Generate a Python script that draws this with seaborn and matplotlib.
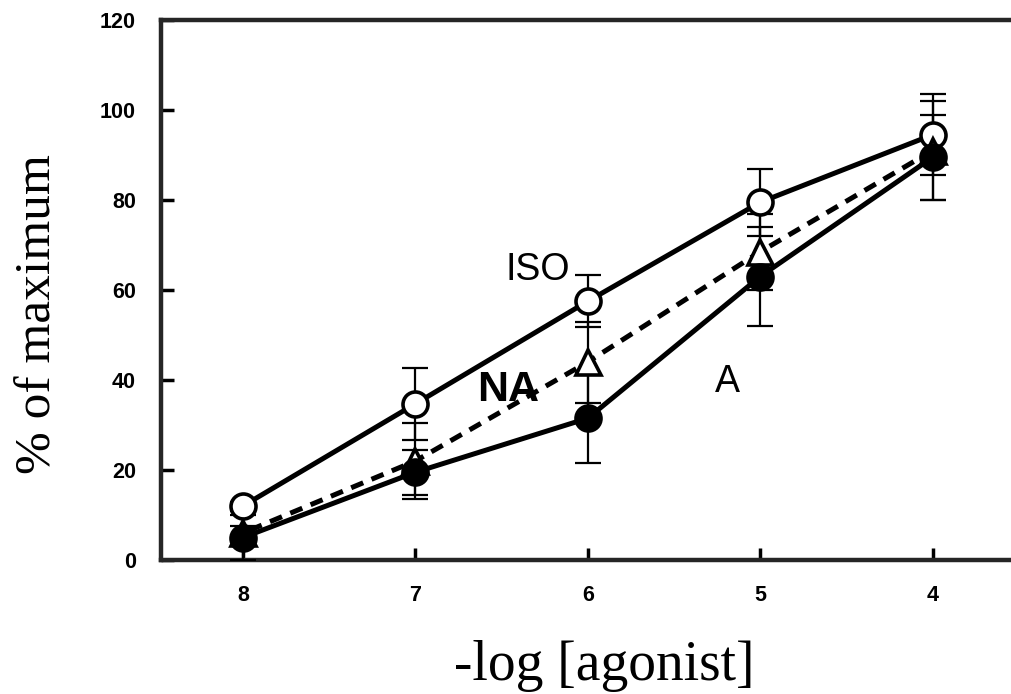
import matplotlib
matplotlib.use("Agg")
import matplotlib.pyplot as plt
import seaborn as sns

# -log[agonist] and % of maximum response (mean +/- SEM)
dose = [8, 7, 6, 5, 4]
iso = [12, 34.7, 57.5, 79.5, 94.5]
iso_err = [1, 8, 5.8, 7.5, 9]
na = [6, 22, 44, 68.5, 91]
na_err = [1.5, 8.4, 9, 8.5, 11]
a = [5, 19.5, 31.5, 63, 89.5]
a_err = [5, 5, 10, 11, 9.5]

yticks = [0, 20, 40, 60, 80, 100, 120]

sns.set_style("ticks")
plt.rcParams["font.family"] = ["Liberation Sans", "DejaVu Sans"]
plt.rcParams.update({"text.color": "black", "axes.labelcolor": "black",
                     "xtick.color": "black", "ytick.color": "black"})

fig = plt.figure(figsize=(10.12, 6.94), dpi=100)
ax = fig.add_axes([161 / 1012, 134 / 694, 851 / 1012, 540 / 694])

common = dict(color="black", linewidth=3.6, markersize=18, markeredgecolor="black",
              markeredgewidth=2.6, ax=ax, legend=False)

for y, err, z in [(iso, iso_err, 2), (na, na_err, 3), (a, a_err, 4)]:
    ax.errorbar(dose, y, yerr=err, fmt="none", ecolor="black", elinewidth=1.6,
                capsize=9.5, capthick=1.6, zorder=z)

sns.lineplot(x=dose, y=iso, marker="o", markerfacecolor="white", zorder=5, **common)
sns.lineplot(x=dose, y=na, marker="^", markerfacecolor="white", zorder=6,
             linestyle=(0, (2.6, 1.8)), **common)
sns.lineplot(x=dose, y=a, marker="o", markerfacecolor="black", zorder=7, **common)

ax.set_xlim(8.475, 3.54)
ax.set_ylim(0, 120)
ax.set_xticks(dose)
ax.set_yticks(yticks)
ax.tick_params(direction="in", length=9, width=2.5, labelsize=15.5, pad=18)
for lab in ax.get_xticklabels() + ax.get_yticklabels():
    lab.set_fontweight("bold")

for side in ["left", "bottom", "top"]:
    ax.spines[side].set_linewidth(3.2)
ax.spines["right"].set_visible(False)

ax.text(6.29, 64.5, "ISO", fontsize=27, ha="center", va="center")
ax.text(6.46, 37.8, "NA", fontsize=31, fontweight="bold", ha="center", va="center")
ax.text(5.19, 39.6, "A", fontsize=27, ha="center", va="center")

ax.set_xlabel("-log [agonist]", family="Liberation Serif", fontsize=40)
ax.set_ylabel("% of maximum", family="Liberation Serif", fontsize=37)
ax.xaxis.set_label_coords((604.5 - 161) / 851, -0.148)
ax.yaxis.set_label_coords(-0.117, 0.4556)

fig.savefig("out.png", dpi=100)
